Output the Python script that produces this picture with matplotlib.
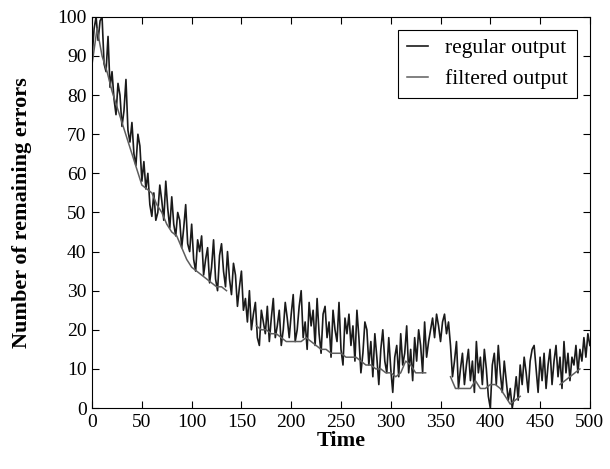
import numpy as np
from matplotlib import pyplot as plt

# regular output, sampled every 2 time units (0..500)
regular_time = np.arange(0, 501, 2)
regular_output = [
    90, 97, 100, 94, 99, 100, 88, 86, 95, 82,
    86, 79, 75, 83, 80, 72, 76, 84, 71, 68,
    73, 65, 62, 70, 67, 58, 63, 56, 60, 52,
    49, 55, 48, 50, 57, 53, 48, 58, 51, 46,
    54, 47, 44, 50, 48, 41, 46, 52, 42, 40,
    47, 38, 35, 43, 40, 44, 34, 38, 41, 32,
    36, 43, 33, 30, 39, 42, 35, 31, 40, 33,
    29, 37, 34, 26, 31, 35, 25, 28, 22, 30,
    20, 24, 27, 18, 16, 25, 22, 19, 26, 17,
    23, 28, 18, 21, 25, 16, 20, 27, 23, 18,
    24, 29, 17, 20, 26, 30, 18, 22, 15, 27,
    21, 25, 16, 28, 19, 14, 24, 26, 18, 22,
    13, 25, 20, 17, 27, 15, 11, 23, 19, 24,
    16, 21, 12, 25, 18, 9, 14, 22, 20, 11,
    17, 8, 19, 13, 6, 15, 20, 12, 9, 18,
    10, 4, 13, 16, 8, 19, 11, 14, 21, 9,
    15, 7, 18, 12, 20, 16, 9, 22, 13, 17,
    20, 23, 18, 24, 21, 17, 22, 24, 19, 22,
    16, 8, 12, 17, 5, 10, 14, 6, 11, 15,
    7, 12, 4, 17, 9, 13, 6, 15, 10, 3,
    0, 11, 14, 6, 16, 9, 4, 12, 7, 2,
    5, 0, 3, 8, 2, 11, 6, 13, 9, 4,
    12, 15, 16, 10, 4, 13, 7, 14, 5, 11,
    15, 6, 12, 16, 8, 13, 5, 17, 9, 14,
    7, 13, 11, 16, 9, 15, 12, 18, 13, 19,
    16,
]

# filtered output, every 5 time units, nan where it is not shown
nan = np.nan
filtered_time = np.arange(0, 501, 5)
filtered_output = [
    88, 97, 90, 86, 81, 77, 73, 69, 65, 61,
    57, 56, 55, 52, 50, 47, 45, 44, 41, 38,
    36, 35, 34, 33, 32, 31, 31, 30, nan, nan,
    nan, nan, nan, 21, 20, 20, 19, 19, 18, 17,
    17, 17, 17, 18, 17, 16, 15, 15, 14, 14,
    14, 13, 13, 13, 12, 11, 11, 10, 10, 9,
    9, 8, 9, 12, 11, 9, 9, 9, nan, nan,
    nan, nan, 8, 5, 5, 5, 5, 7, 5, 5,
    6, 6, 5, 3, 1, 2, 3, nan, nan, nan,
    nan, nan, nan, nan, 6, 7, 8, 9, 10, nan,
    nan,
]

plt.rcParams['font.family'] = ['Liberation Serif', 'DejaVu Serif']

fig = plt.figure(figsize=(6.1, 4.69), dpi=100)
ax = fig.add_axes([0.151, 0.130, 0.816, 0.834])

ax.plot(regular_time, regular_output, color='#1a1a1a', lw=1.2, label='regular output')
ax.plot(filtered_time, filtered_output, color='#5e5e5e', lw=1.1, label='filtered output')

ax.set_xlim(0, 500)
ax.set_ylim(0, 100)
ax.set_xticks(np.arange(0, 501, 50))
ax.set_yticks(np.arange(0, 101, 10))
ax.tick_params(direction='in', top=True, right=True, labelsize=14, length=5, pad=4)
ax.set_xlabel('Time', fontsize=16, fontweight='bold', labelpad=0)
ax.set_ylabel('Number of remaining errors', fontsize=16, fontweight='bold', labelpad=18)

leg = ax.legend(loc='upper right', fontsize=15.5, fancybox=False, edgecolor='black',
                framealpha=1, handlelength=1.0, borderaxespad=0.6)
leg.get_frame().set_linewidth(0.8)

fig.savefig('out.png', dpi=100)
